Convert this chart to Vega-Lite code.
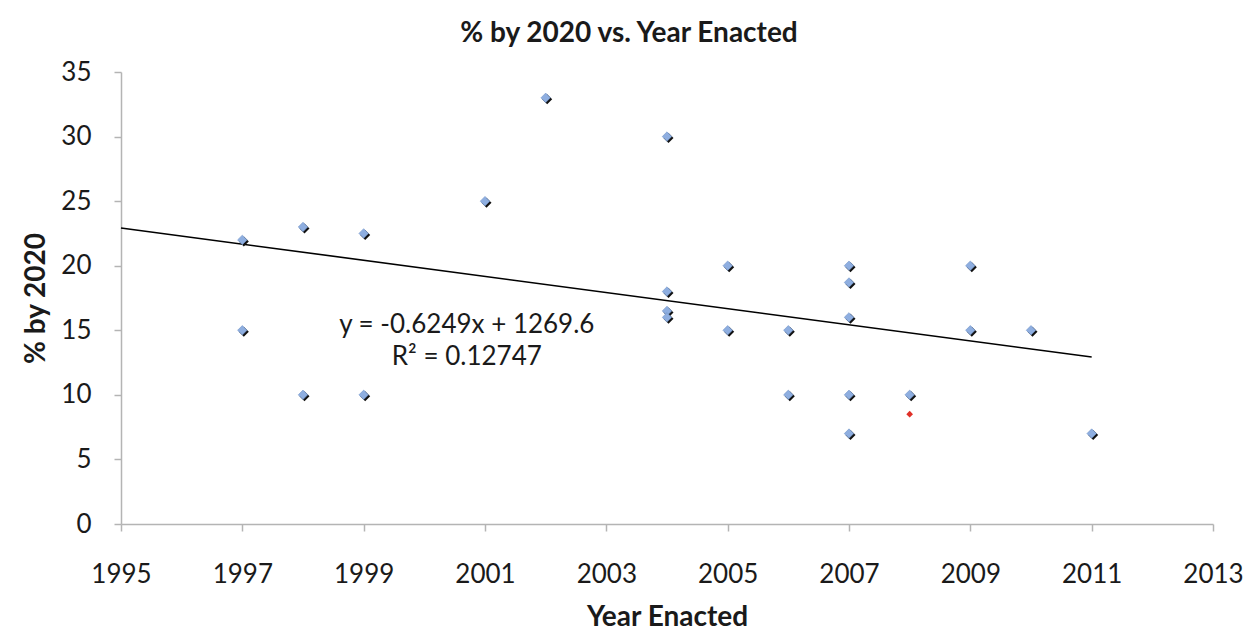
{
  "$schema": "https://vega.github.io/schema/vega-lite/v6.json",
  "width": 1092,
  "height": 452,
  "autosize": {"type": "none"},
  "padding": {"left": 121, "top": 72, "right": 41, "bottom": 117},
  "background": "white",
  "config": {
    "view": {"stroke": null},
    "font": "Lato",
    "axis": {
      "grid": false,
      "domainColor": "#b4b4b4",
      "domainWidth": 1.5,
      "tickColor": "#b4b4b4",
      "tickWidth": 1.5,
      "tickSize": 7,
      "labelFont": "Lato",
      "labelFontSize": 26,
      "labelColor": "#1a1a1a",
      "labelFlush": false,
      "titleFont": "Lato",
      "titleFontSize": 28,
      "titleFontWeight": "bold",
      "titleColor": "#1a1a1a"
    }
  },
  "title": {
    "text": "% by 2020 vs. Year Enacted",
    "font": "Lato",
    "fontSize": 28,
    "fontWeight": "bold",
    "color": "#1a1a1a",
    "anchor": "middle",
    "dx": -38,
    "offset": 11
  },
  "datasets": {
    "pts": [
      {"year": 1997, "pct": 22, "kind": "main"},
      {"year": 1997, "pct": 15, "kind": "main"},
      {"year": 1998, "pct": 23, "kind": "main"},
      {"year": 1998, "pct": 10, "kind": "main"},
      {"year": 1999, "pct": 22.5, "kind": "main"},
      {"year": 1999, "pct": 10, "kind": "main"},
      {"year": 2001, "pct": 25, "kind": "main"},
      {"year": 2002, "pct": 33, "kind": "main"},
      {"year": 2004, "pct": 30, "kind": "main"},
      {"year": 2004, "pct": 18, "kind": "main"},
      {"year": 2004, "pct": 16.5, "kind": "main"},
      {"year": 2004, "pct": 16, "kind": "main"},
      {"year": 2005, "pct": 20, "kind": "main"},
      {"year": 2005, "pct": 15, "kind": "main"},
      {"year": 2006, "pct": 15, "kind": "main"},
      {"year": 2006, "pct": 10, "kind": "main"},
      {"year": 2007, "pct": 20, "kind": "main"},
      {"year": 2007, "pct": 18.7, "kind": "main"},
      {"year": 2007, "pct": 16, "kind": "main"},
      {"year": 2007, "pct": 10, "kind": "main"},
      {"year": 2007, "pct": 7, "kind": "main"},
      {"year": 2008, "pct": 10, "kind": "main"},
      {"year": 2009, "pct": 20, "kind": "main"},
      {"year": 2009, "pct": 15, "kind": "main"},
      {"year": 2010, "pct": 15, "kind": "main"},
      {"year": 2011, "pct": 7, "kind": "main"}
    ],
    "red": [
      {"year": 2008, "pct": 8.5}
    ],
    "trend": [
      {"year": 1995, "pct": 22.92},
      {"year": 2011, "pct": 12.93}
    ],
    "eq": [
      {"year": 2000.7, "pct": 15.4, "label": "y = -0.6249x + 1269.6"},
      {"year": 2000.7, "pct": 12.9, "label": "R² = 0.12747"}
    ]
  },
  "encoding": {
    "x": {
      "field": "year",
      "type": "quantitative",
      "scale": {"domain": [1995, 2013], "nice": false, "zero": false},
      "axis": {
        "title": "Year Enacted",
        "values": [1995, 1997, 1999, 2001, 2003, 2005, 2007, 2009, 2011, 2013],
        "format": "d",
        "labelPadding": 30,
        "titlePadding": 16
      }
    },
    "y": {
      "field": "pct",
      "type": "quantitative",
      "scale": {"domain": [0, 35], "nice": false},
      "axis": {
        "title": "% by 2020",
        "values": [0, 5, 10, 15, 20, 25, 30, 35],
        "labelPadding": 23,
        "titlePadding": 10
      }
    }
  },
  "layer": [
    {
      "data": {"name": "trend"},
      "mark": {"type": "line", "color": "#000000", "strokeWidth": 1.6},
      "encoding": {}
    },
    {
      "data": {"name": "pts"},
      "mark": {"type": "point", "shape": "diamond", "filled": true, "size": 100, "color": "#111111", "opacity": 1, "xOffset": 1.5, "yOffset": 1.5}
    },
    {
      "data": {"name": "pts"},
      "mark": {"type": "point", "shape": "diamond", "filled": true, "size": 90, "color": "#8eaee0", "opacity": 1, "stroke": "#7395c8", "strokeWidth": 0.6}
    },
    {
      "data": {"name": "red"},
      "mark": {"type": "point", "shape": "diamond", "filled": true, "size": 45, "color": "#e03028", "opacity": 1}
    },
    {
      "data": {"name": "eq"},
      "mark": {"type": "text", "font": "Lato", "fontSize": 26, "color": "#1a1a1a", "align": "center", "baseline": "middle"},
      "encoding": {"text": {"field": "label"}}
    }
  ]
}
